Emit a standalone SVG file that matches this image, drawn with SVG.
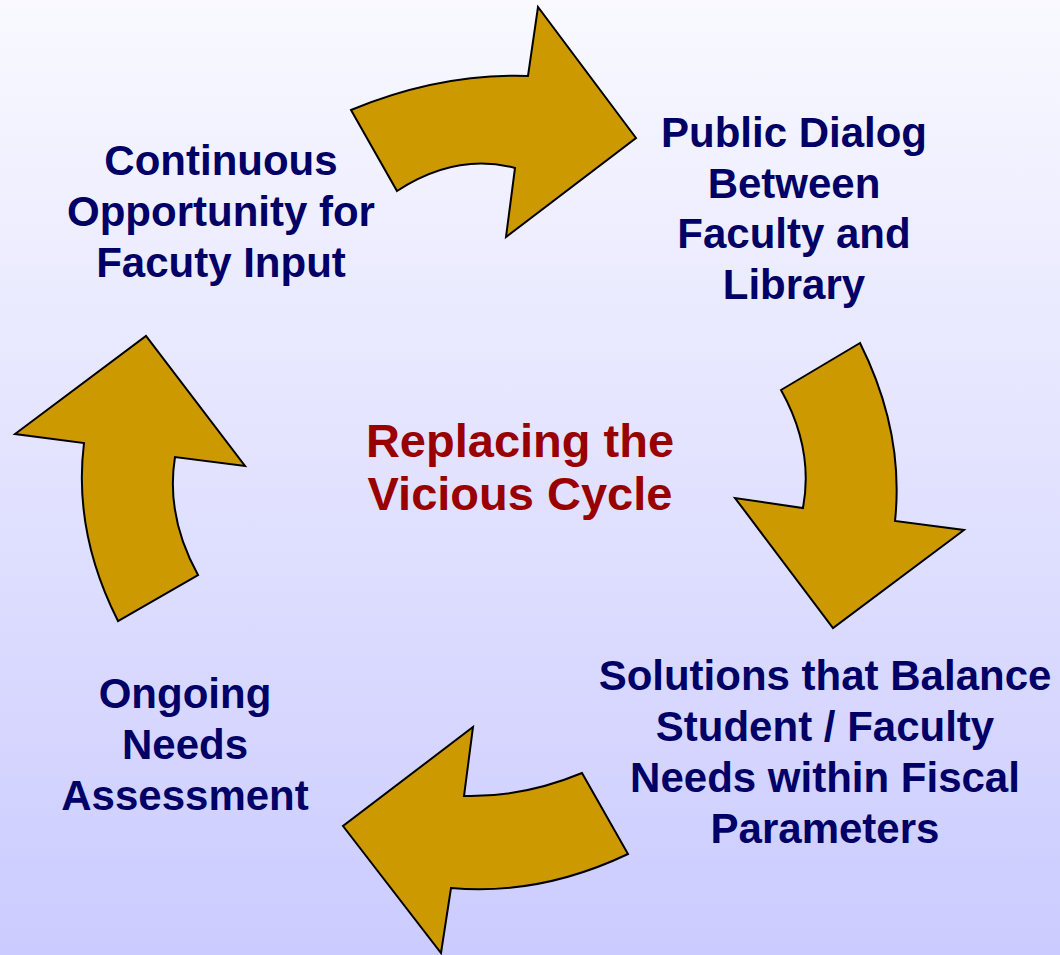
<svg xmlns="http://www.w3.org/2000/svg" width="1060" height="955" viewBox="0 0 1060 955">
<defs>
<linearGradient id="bg" x1="0" y1="0" x2="0" y2="1">
<stop offset="0" stop-color="#f9f9ff"/>
<stop offset="1" stop-color="#cbcbff"/>
</linearGradient>
</defs>
<style>
.arrow{fill:#cc9900;stroke:#000;stroke-width:2;stroke-linejoin:miter}
.lbl{font-family:"Liberation Sans",Arial,sans-serif;font-weight:bold;font-size:42px;text-anchor:middle;fill:#000066}
.title{fill:#990000;font-size:47px}
</style>
<rect x="0" y="0" width="1060" height="955" fill="url(#bg)"/>
<g id="connectors">
<path id="arrow-top" class="arrow" d="M351,110 Q440.5,73 528,76 L538,7 L636,138 L506,237 L515,168 Q456,152.5 397,191 Z"/>
<path id="arrow-right" class="arrow" d="M860,343 L781,390 Q814,449 803,508 L735,498 L833,628 L964,530 L895,521 Q904.5,432 860,343 Z"/>
<path id="arrow-bottom" class="arrow" d="M582,773 L628,854 Q539.5,896 451,888 L441,953 L343,826 L473,727 L464,796 Q523,797.5 582,773 Z"/>
<path id="arrow-left" class="arrow" d="M118,621 Q73,532 84,443 L15,434 L146,336 L245,466 L175,457 Q165.5,516 198,575 Z"/>
</g>
<g id="node-input">
<text class="lbl" x="221" y="175">Continuous</text>
<text class="lbl" x="221" y="226">Opportunity for</text>
<text class="lbl" x="221" y="277">Facuty Input</text>
</g>
<g id="node-dialog">
<text class="lbl" x="794" y="147">Public Dialog</text>
<text class="lbl" x="794" y="198">Between</text>
<text class="lbl" x="794" y="248">Faculty and</text>
<text class="lbl" x="794" y="299">Library</text>
</g>
<g id="node-center">
<text class="lbl title" x="520" y="457">Replacing the</text>
<text class="lbl title" x="520" y="510">Vicious Cycle</text>
</g>
<g id="node-solutions">
<text class="lbl" x="825" y="690">Solutions that Balance</text>
<text class="lbl" x="825" y="741">Student / Faculty</text>
<text class="lbl" x="825" y="792">Needs within Fiscal</text>
<text class="lbl" x="825" y="843">Parameters</text>
</g>
<g id="node-assessment">
<text class="lbl" x="185" y="708">Ongoing</text>
<text class="lbl" x="185" y="759">Needs</text>
<text class="lbl" x="185" y="810">Assessment</text>
</g>
</svg>
